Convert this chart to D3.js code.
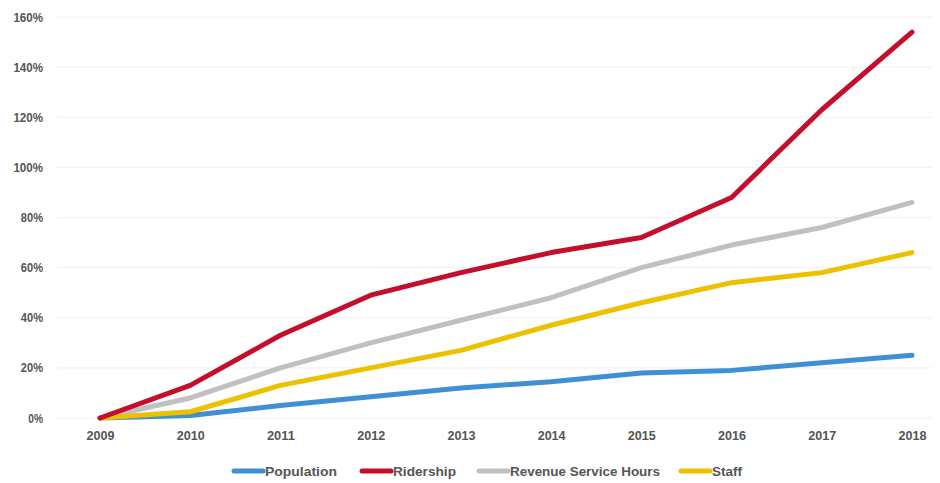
<!DOCTYPE html>
<html><head><meta charset="utf-8">
<script src="https://cdn.jsdelivr.net/npm/d3@7"></script>
<style>body{margin:0;background:#fff;}svg{display:block;font-family:"Liberation Sans","DejaVu Sans",sans-serif;}</style>
</head><body><svg id="c" width="940" height="483"></svg>
<script>
const years = [2009,2010,2011,2012,2013,2014,2015,2016,2017,2018];
const population = [0,1,5,8.5,12,14.5,18,19,22,25];
const ridership = [0,13,33,49,58,66,72,88,123,154];
const revenueHours = [0,8,20,30,39,48,60,69,76,86];
const staff = [0,2.5,13,20,27,37,46,54,58,66];
const yTicks = [0,20,40,60,80,100,120,140,160];
const seriesNames = ["Population","Ridership","Revenue Service Hours","Staff"];
const seriesColors = ["#3e8fd4","#c40f2c","#c0c0c0","#ecc100"];
const seriesData = [population, ridership, revenueHours, staff];

const svg = d3.select("#c");
const x = d3.scalePoint().domain(years).range([100,912]);
const y = d3.scaleLinear().domain([0,160]).range([418,17]);

// gridlines
svg.append("g").selectAll("line").data(yTicks).join("line")
  .attr("x1",57).attr("x2",932)
  .attr("y1",d=>y(d)).attr("y2",d=>y(d))
  .attr("stroke","#f0f0f0").attr("stroke-width",1);

// y axis
const ya = svg.append("g").attr("transform","translate(57,0)")
  .call(d3.axisLeft(y).tickValues(yTicks).tickSize(0).tickPadding(14).tickFormat(d=>d+"%"));
ya.select(".domain").remove();
ya.selectAll("text").attr("font-size",12.5).attr("fill","#555").attr("font-family","inherit").attr("font-weight","bold")
  .attr("textLength",function(d){return (String(d).length+1)*7.4;}).attr("lengthAdjust","spacingAndGlyphs");

// x axis
const xa = svg.append("g").attr("transform","translate(0,431)")
  .call(d3.axisBottom(x).tickSize(0).tickPadding(0));
xa.select(".domain").remove();
xa.selectAll("text").attr("font-size",12.5).attr("fill","#555").attr("font-family","inherit").attr("font-weight","bold")
  .attr("textLength",28).attr("lengthAdjust","spacingAndGlyphs");

const line = d3.line().x((d,i)=>x(years[i])).y(d=>y(d));
const order = [0,2,3,1];
svg.append("g").selectAll("path").data(order).join("path")
  .attr("d",i=>line(seriesData[i]))
  .attr("fill","none").attr("stroke",i=>seriesColors[i])
  .attr("stroke-width",5).attr("stroke-linecap","round").attr("stroke-linejoin","round");

// legend
const legendX = [234,362,479,681];
const legendTextW = [72,63,150,30];
const lg = svg.append("g").selectAll("g").data(seriesNames).join("g")
  .attr("transform",(d,i)=>`translate(${legendX[i]},471)`);
lg.append("line").attr("x1",0).attr("x2",29).attr("y1",0).attr("y2",0)
  .attr("stroke",(d,i)=>seriesColors[i]).attr("stroke-width",5).attr("stroke-linecap","round");
lg.append("text").attr("x",31).attr("y",4.5).attr("font-size",13).attr("fill","#555").attr("font-weight","bold")
  .attr("textLength",(d,i)=>legendTextW[i]).attr("lengthAdjust","spacingAndGlyphs").text(d=>d);
</script></body></html>
